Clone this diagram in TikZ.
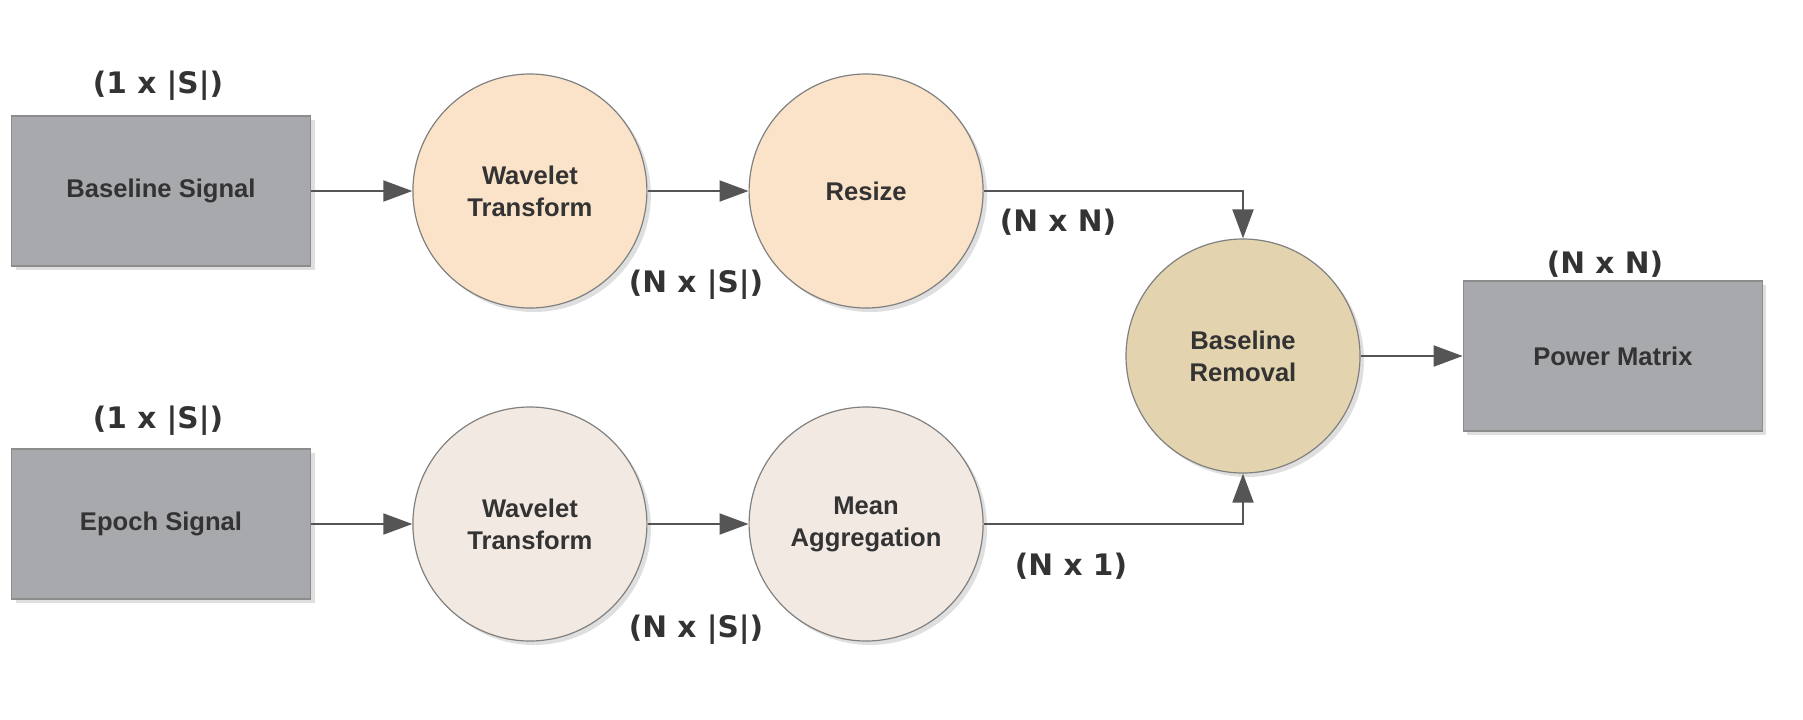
\documentclass[tikz,border=0pt]{standalone}
\usepackage{fontspec}
\setmainfont{Liberation Sans}
\newfontfamily\dimfont{DejaVu Sans}
\usepackage{tikz}
\usetikzlibrary{arrows.meta,positioning,shadows}
\definecolor{boxgray}{HTML}{A8A9AD}
\definecolor{boxline}{HTML}{8C8C8C}
\definecolor{peach}{HTML}{FAE3C9}
\definecolor{shell}{HTML}{F2EAE2}
\definecolor{sand}{HTML}{E3D4AF}
\definecolor{ringline}{HTML}{808080}
\definecolor{txtgray}{HTML}{333333}
\definecolor{wire}{HTML}{555555}

\begin{document}
\begin{tikzpicture}[
  x=0.5pt, y=-0.5pt,
  font=\fontsize{12.8}{16}\selectfont\bfseries, text=txtgray,
  sig/.style={draw=boxline, fill=boxgray, line width=0.8pt, inner sep=0pt,
              minimum width=149.5pt, minimum height=75pt,
              drop shadow={opacity=0.25, shadow xshift=2pt, shadow yshift=-2pt}},
  stage/.style={circle, draw=ringline, line width=0.6pt, inner sep=0pt,
                minimum size=117pt, align=center,
                drop shadow={opacity=0.25, shadow xshift=2pt, shadow yshift=-2pt}},
  dimlbl/.style={font=\dimfont\fontsize{14.8}{18}\selectfont\bfseries, inner sep=0pt},
  arr/.style={-{Triangle[length=14.5pt, width=10.5pt]}, line width=1pt, draw=wire}
]
\useasboundingbox (0,0) rectangle (1803,719);

\node[sig] (bsig) at (161,191) {Baseline Signal};
\node[stage, fill=peach, right=50.5pt of bsig] (wt1) {Wavelet\\Transform};
\node[stage, fill=peach, right=50.5pt of wt1] (rsz) {Resize};
\node[stage, fill=sand] (rem) at (1243,356) {Baseline\\Removal};
\node[sig, right=51pt of rem] (pow) {Power Matrix};
\node[sig] (esig) at (161,524) {Epoch Signal};
\node[stage, fill=shell, right=50.5pt of esig] (wt2) {Wavelet\\Transform};
\node[stage, fill=shell, right=50.5pt of wt2] (mean) {Mean\\Aggregation};

\node[dimlbl] (bdim) at (158,86) {(1 x |S|)};
\node[dimlbl] (edim) at (158,421) {(1 x |S|)};
\node[dimlbl] (wdim1) at (696,285) {(N x |S|)};
\node[dimlbl] (wdim2) at (696,630) {(N x |S|)};
\node[dimlbl] (rdim) at (1058,222) {(N x N)};
\node[dimlbl] (mdim) at (1071,566) {(N x 1)};
\node[dimlbl] (pdim) at (1605,264) {(N x N)};

\draw[arr] (bsig) -- (wt1);
\draw[arr] (wt1) -- (rsz);
\draw[arr] (rsz.east) -| (rem.north);
\draw[arr] (rem) -- (pow);
\draw[arr] (esig) -- (wt2);
\draw[arr] (wt2) -- (mean);
\draw[arr] (mean.east) -| (rem.south);
\end{tikzpicture}
\end{document}
